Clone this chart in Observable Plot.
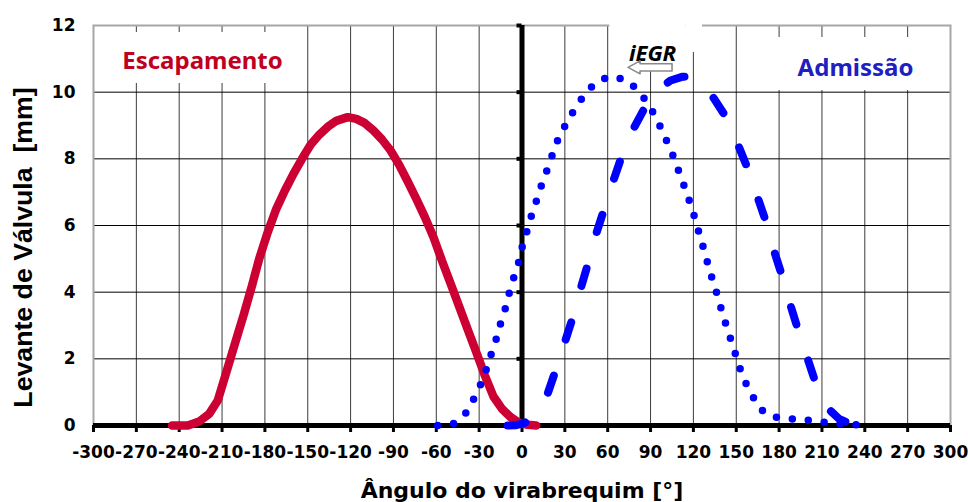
<!DOCTYPE html>
<html>
<head>
<meta charset="utf-8">
<script src="https://cdn.jsdelivr.net/npm/d3@7"></script>
<script src="https://cdn.jsdelivr.net/npm/@observablehq/plot@0.6"></script>
<style>
  html, body { margin: 0; padding: 0; background: #fff; }
</style>
</head>
<body>
<div id="chart"></div>
<script>
// ---- Tick labels ----
const xTicks = [-300, -270, -240, -210, -180, -150, -120, -90, -60, -30, 0, 30, 60, 90, 120, 150, 180, 210, 240, 270, 300];
const yTicks = [0, 2, 4, 6, 8, 10, 12];

// ---- Series labels ----
const exhaustLabel = "Escapamento";
const intakeLabel = "Admissão";
const iegrLabel = "iEGR";
const xTitle = "Ângulo do virabrequim [°]";
const yTitle = "Levante de Válvula\u00a0 [mm]";

// ---- Escapamento (solid red) ----
const exhaustAngle = [-245, -234, -226, -219, -213, -207, -201, -195, -189, -184, -178, -172, -166, -160, -154, -148, -142, -136, -130, -122, -116, -110, -104, -98, -92, -86, -80, -74, -68, -62, -56, -50, -44, -38, -32, -26, -20, -14, -8, -2, 4, 10];
const exhaustLift  = [0, 0, 0.12, 0.35, 0.75, 1.6, 2.45, 3.3, 4.2, 5.0, 5.8, 6.5, 7.05, 7.55, 8.0, 8.42, 8.72, 8.96, 9.14, 9.25, 9.2, 9.07, 8.85, 8.58, 8.25, 7.82, 7.32, 6.8, 6.25, 5.65, 4.94, 4.26, 3.57, 2.88, 2.2, 1.5, 0.87, 0.5, 0.25, 0.08, 0.02, 0];

// ---- iEGR (dotted blue) ----
const iegrAngle = [-59, -48, -39.5, -34, -29, -25, -21.4, -17.9, -15, -11.5, -8.7, -5.3, -1.7, 0.5, 4, 7.3, 10.9, 14.3, 18.5, 22, 26, 31.8, 37.5, 43.8, 51.5, 61, 72.5, 80.8, 87.5, 93.5, 98.4, 103, 107.5, 111, 115, 118.7, 122, 125, 128.5, 131, 134.8, 138, 141, 144.6, 148, 151.5, 155, 160.6, 165.6, 174, 185, 196, 208, 219, 230, 241];
const iegrLift  = [0, 0.06, 0.36, 0.78, 1.23, 1.68, 2.16, 2.61, 3.06, 3.54, 4.02, 4.5, 4.98, 5.43, 5.9, 6.4, 6.84, 7.3, 7.77, 8.22, 8.67, 9.12, 9.54, 9.93, 10.29, 10.47, 10.38, 10.08, 9.7, 9.27, 8.82, 8.37, 7.92, 7.47, 7.02, 6.54, 6.09, 5.61, 5.13, 4.68, 4.2, 3.72, 3.27, 2.79, 2.34, 1.86, 1.41, 0.96, 0.54, 0.27, 0.21, 0.18, 0.12, 0.06, 0.03, 0];

// ---- Admissão (dashed blue) ----
const intakeAngle = [-10, -4, 2, 7, 12, 18, 24, 30, 36, 41, 46.5, 52, 58, 64, 70, 78, 88, 96, 104, 112, 118, 125, 133, 143, 151, 158, 165, 171, 176, 182, 188, 193, 200, 205, 210, 215, 222, 231, 240];
const intakeLift  = [0, 0.01, 0.08, 0.25, 0.5, 0.96, 1.71, 2.5, 3.3, 4.1, 4.9, 5.76, 6.55, 7.35, 8.1, 8.9, 9.7, 10.1, 10.35, 10.46, 10.47, 10.3, 9.9, 9.24, 8.45, 7.71, 6.84, 6.09, 5.3, 4.5, 3.6, 2.91, 2.0, 1.35, 0.85, 0.48, 0.2, 0.03, 0];

const toRows = (xs, ys) => xs.map((a, i) => ({angle: a, lift: ys[i]}));
const exhaust = toRows(exhaustAngle, exhaustLift);
const iegr = toRows(iegrAngle, iegrLift);
const intake = toRows(intakeAngle, intakeLift);

const red = "#cc0033";
const blue = "#0000ff";
const boldFont = {fontWeight: "bold", fontFamily: "DejaVu Sans"};

// block arrow annotation next to the iEGR label (points left)
function iegrArrow(index, scales) {
  const tipX = scales.x(74.6), tailX = scales.x(105.4), cy = scales.y(10.73);
  const headX = tipX + 12;
  const d = `M${tipX},${cy} L${headX},${cy - 6.5} L${headX},${cy - 3.6} L${tailX},${cy - 3.6} L${tailX},${cy + 3.6} L${headX},${cy + 3.6} L${headX},${cy + 6.5} Z`;
  const path = document.createElementNS("http://www.w3.org/2000/svg", "path");
  path.setAttribute("d", d);
  path.setAttribute("fill", "#fff");
  path.setAttribute("stroke", "#8a8a8a");
  path.setAttribute("stroke-width", "1.6");
  path.setAttribute("stroke-linejoin", "round");
  return path;
}

const chart = Plot.plot({
  width: 968,
  height: 502,
  marginLeft: 93,
  marginRight: 18,
  marginTop: 25,
  marginBottom: 77,
  style: {background: "#fff", color: "#000", overflow: "visible"},
  x: {domain: [-300, 300]},
  y: {domain: [0, 12]},
  marks: [
    Plot.gridX(xTicks.filter(d => d !== 0 && Math.abs(d) !== 300), {stroke: "#1a1a1a", strokeOpacity: 0.85, strokeWidth: 1}),
    Plot.gridY(yTicks.filter(d => d > 0 && d < 12), {stroke: "#000", strokeOpacity: 1, strokeWidth: 1}),
    Plot.frame({stroke: "#a6a6a6", strokeWidth: 2}),
    // white label backgrounds
    Plot.rect([0], {x1: -298.6, x2: -162, y1: 10.26, y2: 11.79, fill: "#fff"}),
    Plot.rect([0], {x1: 153, x2: 298.6, y1: 10.05, y2: 11.64, fill: "#fff"}),
    Plot.rect([0], {x1: 61.5, x2: 115, y1: 10.85, y2: 12.1, fill: "#fff"}),
    Plot.rect([0], {x1: 115, x2: 126.4, y1: 11.19, y2: 12.1, fill: "#fff"}),
    // thick axes through origin
    Plot.ruleY([0], {stroke: "#000", strokeWidth: 5}),
    Plot.ruleX([0], {stroke: "#000", strokeWidth: 5}),
    Plot.ruleY(yTicks.filter(d => d > 0), {x1: -3.5, x2: 0, stroke: "#000", strokeWidth: 4}),
    Plot.axisX({ticks: xTicks, tickSize: 7, tickPadding: 13, strokeWidth: 3, fontSize: 17, ...boldFont, label: null, tickFormat: d => String(d)}),
    Plot.axisY({ticks: yTicks, tickSize: 0, tickPadding: 18, fontSize: 17, ...boldFont, label: null, tickFormat: d => String(d)}),
    // series
    Plot.line(exhaust, {x: "angle", y: "lift", stroke: red, strokeWidth: 8.5, strokeLinejoin: "round"}),
    Plot.line(iegr, {x: "angle", y: "lift", stroke: blue, strokeWidth: 7.5, strokeDasharray: "0 16", strokeLinecap: "round"}),
    Plot.line(intake, {x: "angle", y: "lift", stroke: blue, strokeWidth: 8, strokeDasharray: "18 38", strokeLinecap: "round", strokeLinejoin: "round"}),
    // labels
    Plot.text([exhaustLabel], {x: -223.7, y: 10.94, text: d => d, fill: "#c00020", fontSize: 24, fontWeight: "bold", fontFamily: "Noto Sans", textAnchor: "middle", lineAnchor: "middle"}),
    Plot.text([intakeLabel], {x: 233.5, y: 10.73, text: d => d, fill: "#2020c0", fontSize: 24, fontWeight: "bold", fontFamily: "Noto Sans", textAnchor: "middle", lineAnchor: "middle"}),
    Plot.text([iegrLabel], {x: 91.4, y: 11.16, text: d => d, fill: "#000", fontSize: 22, fontWeight: "bold", fontStyle: "italic", fontFamily: "Noto Sans", textAnchor: "middle", lineAnchor: "middle"}),
    iegrArrow,
    // axis titles
    Plot.text([xTitle], {frameAnchor: "bottom", dy: 65, text: d => d, fontSize: 22, ...boldFont, textAnchor: "middle", lineAnchor: "middle", fill: "#000"}),
    Plot.text([yTitle], {frameAnchor: "left", dx: -70.5, dy: 22, rotate: -90, text: d => d, fontSize: 26.7, fontWeight: "bold", fontFamily: "Liberation Sans", textAnchor: "middle", lineAnchor: "middle", fill: "#000"})
  ]
});

document.getElementById("chart").appendChild(chart);
</script>
</body>
</html>
